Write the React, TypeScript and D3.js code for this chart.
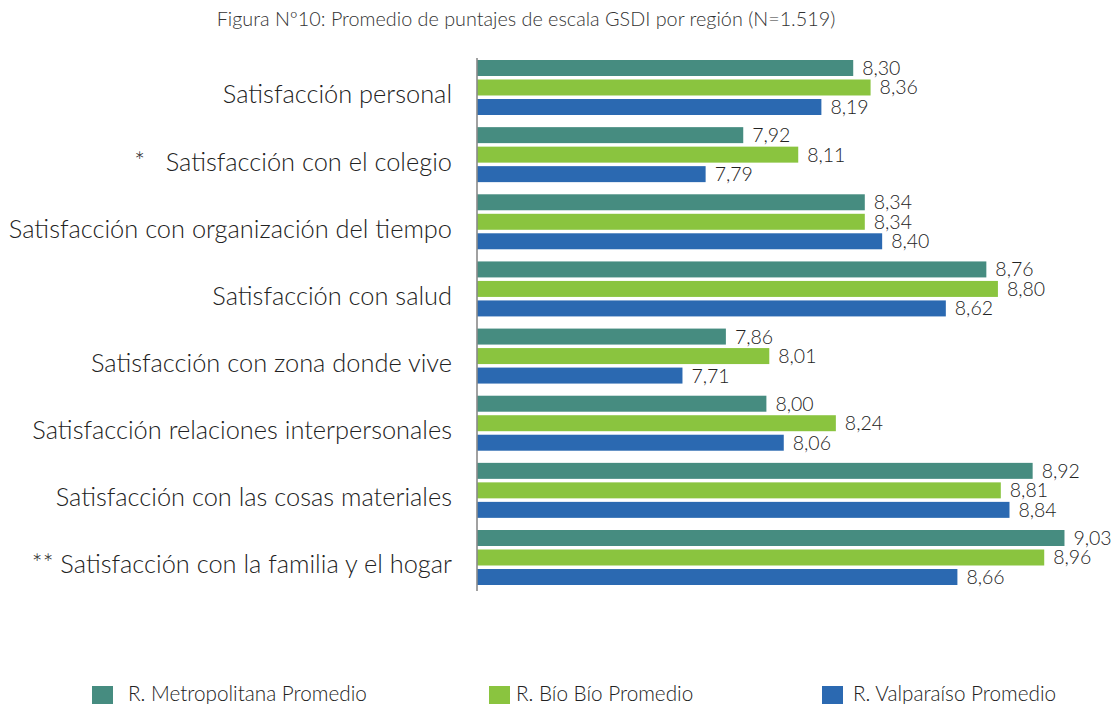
import React from "react";
import * as d3 from "d3";

const title = "Figura Nº10: Promedio de puntajes de escala GSDI por región (N=1.519)";

const categories = [
  "Satisfacción personal",
  "*\u00A0\u00A0\u00A0Satisfacción con el colegio",
  "Satisfacción con organización del tiempo",
  "Satisfacción con salud",
  "Satisfacción con zona donde vive",
  "Satisfacción relaciones interpersonales",
  "Satisfacción con las cosas materiales",
  "** Satisfacción con la familia y el hogar",
];

const seriesNames = [
  "R. Metropolitana Promedio",
  "R. Bío Bío Promedio",
  "R. Valparaíso Promedio",
];

const metropolitana = [8.3, 7.92, 8.34, 8.76, 7.86, 8.0, 8.92, 9.03];
const bioBio = [8.36, 8.11, 8.34, 8.8, 8.01, 8.24, 8.81, 8.96];
const valparaiso = [8.19, 7.79, 8.4, 8.62, 7.71, 8.06, 8.84, 8.66];

const seriesValues = [metropolitana, bioBio, valparaiso];
const colors = ["#468C80", "#8AC43F", "#2B69B1"];

const FONT = "Lato, 'Open Sans', sans-serif";
const W = 1113;
const H = 704;

export default function App() {
  const x = d3.scaleLinear().domain([7, 9.1]).range([477, 477 + 2.1 * 289.4]);
  const y = d3
    .scaleBand<string>()
    .domain(categories)
    .range([60, 585])
    .paddingInner(0.181)
    .paddingOuter(0);
  const ySub = d3
    .scaleBand<string>()
    .domain(seriesNames)
    .range([0, y.bandwidth()])
    .paddingInner(0.18);

  const fmt = (v: number) => d3.format(".2f")(v).replace(".", ",");

  const legendPos = [
    { sq: 92, tx: 128 },
    { sq: 489, tx: 516 },
    { sq: 822, tx: 853 },
  ];

  return (
    <svg
      width={W}
      height={H}
      style={{ position: "absolute", left: 0, top: 0, background: "#fff" }}
      fontFamily={FONT}
      fontWeight={300}
    >
      <text x={526} y={26} textAnchor="middle" fontSize={19.8} fill="#333">
        {title}
      </text>

      {categories.map((c, i) => (
        <g key={c} transform={`translate(0,${y(c)})`}>
          <text
            x={452}
            y={y.bandwidth() / 2 + 16}
            textAnchor="end"
            fontSize={25.4}
            fill="#222"
          >
            {c}
          </text>
          {seriesNames.map((s, j) => {
            const v = seriesValues[j][i];
            const by = ySub(s) as number;
            return (
              <g key={s}>
                <rect
                  x={x(7)}
                  y={by}
                  width={x(v) - x(7)}
                  height={ySub.bandwidth()}
                  fill={colors[j]}
                />
                <text
                  x={x(v) + 9}
                  y={by + ySub.bandwidth() / 2 + 7}
                  fontSize={19.5}
                  fill="#222"
                >
                  {fmt(v)}
                </text>
              </g>
            );
          })}
        </g>
      ))}

      <line x1={477} x2={477} y1={58} y2={591} stroke="#8a8a8a" strokeWidth={1.6} />

      {seriesNames.map((s, j) => (
        <g key={s}>
          <rect x={legendPos[j].sq} y={686} width={21} height={20} fill={colors[j]} />
          <text x={legendPos[j].tx} y={701} fontSize={20.7} fill="#222">
            {s}
          </text>
        </g>
      ))}
    </svg>
  );
}
